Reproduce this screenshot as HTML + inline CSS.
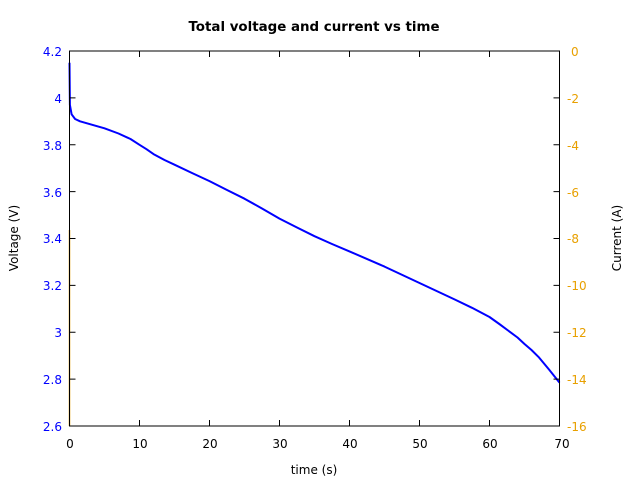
<!DOCTYPE html>
<html><head><style>body{margin:0;background:#fff}</style></head><body>
<svg width="640" height="480" xmlns="http://www.w3.org/2000/svg" font-family="DejaVu Sans, sans-serif" font-size="12">
<rect width="640" height="480" fill="#fff"/>
<text x="314" y="31" text-anchor="middle" font-weight="bold" font-size="13.4">Total voltage and current vs time</text>
<line x1="69.5" y1="230" x2="69.5" y2="426" stroke="#e8a000" stroke-width="1.5"/>
<polyline fill="none" stroke="#0000ff" stroke-width="2" stroke-linejoin="round" points="69.5,62.7 69.9,104.9 71.6,114.3 75.1,119 80,121.3 104.5,128.3 118.5,133.5 130.5,139 139.5,144.8 146.5,149.2 153.5,154.1 164.5,160 174.5,164.7 192,173 209.5,181.1 227,190 244.5,198.7 262,208.5 279.5,218.6 297,227.5 314.5,236.2 332,244 349.5,251.4 384.5,266.6 419.5,283 454.5,299.4 472,307.8 489.5,317 500,324.5 510.5,332.3 517.5,337.5 524.5,344 531.5,350 538.5,356.9 549,369.5 559.5,382.6"/>
<rect x="69.5" y="51" width="490" height="375" fill="none" stroke="#000" stroke-width="1"/>
<g stroke="#000">
<path d="M139.5,426v-6M209.5,426v-6M279.5,426v-6M349.5,426v-6M419.5,426v-6M489.5,426v-6M139.5,51v6M209.5,51v6M279.5,51v6M349.5,51v6M419.5,51v6M489.5,51v6"/>
<path d="M69.5,97.9h6M69.5,144.8h6M69.5,191.6h6M69.5,238.5h6M69.5,285.4h6M69.5,332.3h6M69.5,379.1h6"/>
<path d="M559.5,97.9h-6M559.5,144.8h-6M559.5,191.6h-6M559.5,238.5h-6M559.5,285.4h-6M559.5,332.3h-6M559.5,379.1h-6"/>
</g>
<g fill="#0000ff" text-anchor="end">
<text x="62" y="56">4.2</text><text x="62" y="103">4</text><text x="62" y="150">3.8</text><text x="62" y="197">3.6</text><text x="62" y="243">3.4</text><text x="62" y="290">3.2</text><text x="62" y="337">3</text><text x="62" y="384">2.8</text><text x="62" y="431">2.6</text>
</g>
<g fill="#e8a000">
<text x="571" y="56">0</text><text x="567" y="103">-2</text><text x="567" y="150">-4</text><text x="567" y="197">-6</text><text x="567" y="243">-8</text><text x="567" y="290">-10</text><text x="567" y="337">-12</text><text x="567" y="384">-14</text><text x="567" y="431">-16</text>
</g>
<g text-anchor="middle">
<text x="70" y="448">0</text><text x="140" y="448">10</text><text x="210" y="448">20</text><text x="280" y="448">30</text><text x="350" y="448">40</text><text x="420" y="448">50</text><text x="490" y="448">60</text><text x="562" y="448">70</text>
<text x="314" y="474">time (s)</text>
<text transform="translate(18,238) rotate(-90)">Voltage (V)</text>
<text transform="translate(621,238) rotate(-90)">Current (A)</text>
</g>
</svg>
</body></html>
